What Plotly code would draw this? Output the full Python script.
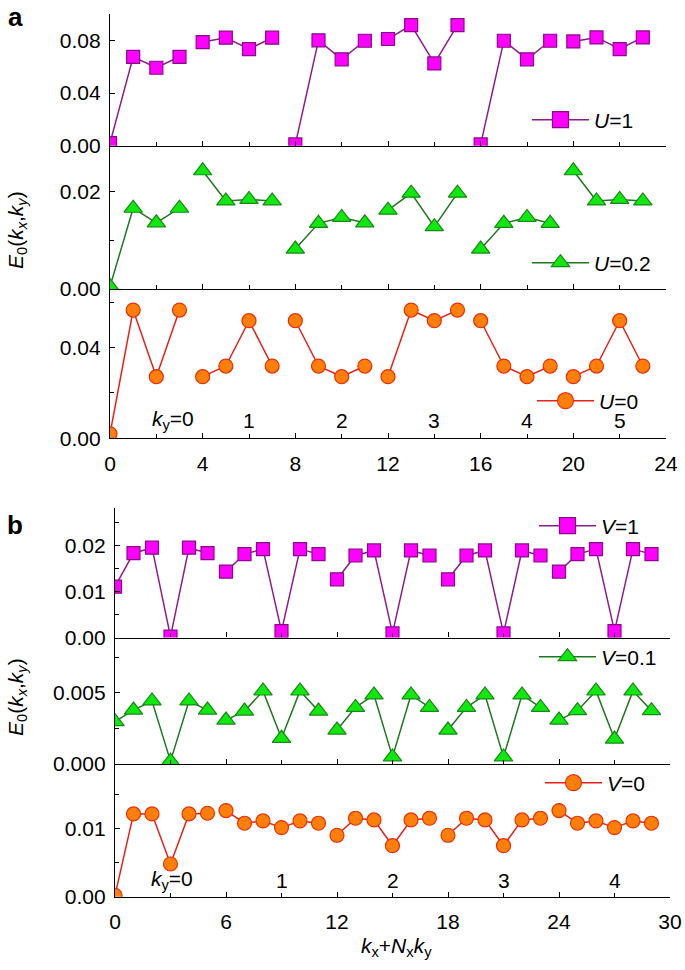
import plotly.graph_objects as go

# ---------------- data ----------------
NX_A = 4
x_a = list(range(24))
u1 = [0.002, 0.0675, 0.0592, 0.0675, 0.0787, 0.082, 0.0734, 0.082,
      0.001, 0.080, 0.0656, 0.0797, 0.081, 0.0916, 0.0625, 0.0916,
      0.001, 0.0797, 0.0656, 0.0797, 0.0792, 0.0822, 0.0734, 0.0822]
u02 = [0.0005, 0.0166, 0.0136, 0.0166, 0.0243, 0.0181, 0.0184, 0.0181,
       0.0082, 0.0135, 0.0147, 0.0136, 0.0162, 0.0197, 0.0128, 0.0197,
       0.0082, 0.0135, 0.0147, 0.0135, 0.0243, 0.0181, 0.0184, 0.0181]
u0 = [0.002, 0.0566, 0.0272, 0.0566, 0.0272, 0.0319, 0.0519, 0.0319,
      0.0519, 0.0319, 0.0272, 0.0319, 0.0272, 0.0566, 0.0519, 0.0566,
      0.0519, 0.0319, 0.0272, 0.0319, 0.0272, 0.0319, 0.0519, 0.0319]
ky_labels_a = ["<i>k</i><sub>y</sub>=0", "1", "2", "3", "4", "5"]

NX_B = 6
x_b = list(range(30))
v1 = [0.0111, 0.0184, 0.0196, 0.0002, 0.0196, 0.0184,
      0.0144, 0.0182, 0.0193, 0.0014, 0.0193, 0.0182,
      0.0127, 0.0179, 0.0190, 0.0009, 0.0190, 0.0179,
      0.0127, 0.0179, 0.0190, 0.0009, 0.0190, 0.0179,
      0.0144, 0.0182, 0.0193, 0.0014, 0.0193, 0.0182]
v01 = [0.00297, 0.00378, 0.00442, 0.0002, 0.00442, 0.00378,
       0.00308, 0.00371, 0.00512, 0.0018, 0.00512, 0.00371,
       0.00238, 0.00397, 0.00484, 0.0005, 0.00484, 0.00397,
       0.00238, 0.00397, 0.00484, 0.0005, 0.00484, 0.00397,
       0.00308, 0.00374, 0.00512, 0.00175, 0.00512, 0.00374]
v0 = [0.0002, 0.0121, 0.0121, 0.00478, 0.0121, 0.0122,
      0.01259, 0.01074, 0.01108, 0.0101, 0.01108, 0.01074,
      0.00898, 0.01147, 0.01122, 0.00746, 0.01122, 0.01147,
      0.00898, 0.01147, 0.01122, 0.00746, 0.01122, 0.01147,
      0.01259, 0.01074, 0.01108, 0.0101, 0.01108, 0.01074]
ky_labels_b = ["<i>k</i><sub>y</sub>=0", "1", "2", "3", "4"]

# ---------------- style ----------------
FONT = "Liberation Sans, Arial, sans-serif"
TICKFONT = dict(family=FONT, size=21, color="black")
STY = {
    "sq": dict(symbol="square", fill="#FF00FF", edge="#8A0A8A", line="#8B1C8B", size=13),
    "tri": dict(symbol="triangle-up", fill="#10E810", edge="#168A16", line="#1E781E", size=16),
    "cir": dict(symbol="circle", fill="#FF7F0A", edge="#E8300A", line="#E8201A", size=14),
}


def broken(xs, ys, n):
    xx, yy = [], []
    for i, (x, y) in enumerate(zip(xs, ys)):
        if i and i % n == 0:
            xx.append(None)
            yy.append(None)
        xx.append(x)
        yy.append(y)
    return xx, yy


fig = go.Figure()

panels = [
    (x_a, u1, NX_A, "sq", "<i>U</i>=1", 1, "legend"),
    (x_a, u02, NX_A, "tri", "<i>U</i>=0.2", 2, "legend2"),
    (x_a, u0, NX_A, "cir", "<i>U</i>=0", 3, "legend3"),
    (x_b, v1, NX_B, "sq", "<i>V</i>=1", 4, "legend4"),
    (x_b, v01, NX_B, "tri", "<i>V</i>=0.1", 5, "legend5"),
    (x_b, v0, NX_B, "cir", "<i>V</i>=0", 6, "legend6"),
]

for xs, ys, n, st, name, k, lg in panels:
    s = STY[st]
    xx, yy = broken(xs, ys, n)
    xref = "x" if k == 1 else f"x{k}"
    yref = "y" if k == 1 else f"y{k}"
    fig.add_trace(go.Scatter(
        x=xx, y=yy, mode="lines+markers", name=name,
        line=dict(color=s["line"], width=1.5),
        marker=dict(symbol=s["symbol"], size=s["size"], color=s["fill"],
                    line=dict(color=s["edge"], width=1.2)),
        xaxis=xref, yaxis=yref, showlegend=False, connectgaps=False,
    ))
    # legend entry with a larger symbol
    fig.add_trace(go.Scatter(
        x=[None], y=[None], mode="lines+markers", name=name,
        line=dict(color=s["line"], width=1.5),
        marker=dict(symbol=s["symbol"], size=18, color=s["fill"],
                    line=dict(color=s["edge"], width=1.2)),
        xaxis=xref, yaxis=yref, legend=lg, showlegend=True,
    ))

W, H = 685, 970


def py(p):
    return 1 - p / H


xdom_a = [110 / W, 666 / W]
xdom_b = [115 / W, 670 / W]

ycfg = {
    1: ((14, 145.7), 0.1, 0.04, None, ".2f"),
    2: ((145.7, 289), 0.02945, 0.02, 0.01, ".2f"),
    3: ((289, 438.3), 0.0659, 0.04, 0.02, ".2f"),
    4: ((508.3, 637.5), 0.0282, 0.01, 0.005, ".2f"),
    5: ((637.5, 764), 0.00887, 0.005, 0.0025, ".3f"),
    6: ((764, 896.7), 0.0194, 0.01, 0.005, ".2f"),
}

layout = dict(
    template="none",
    width=W, height=H, margin=dict(l=0, r=0, t=0, b=0, autoexpand=False),
    paper_bgcolor="white", plot_bgcolor="white",
    font=dict(family=FONT, size=21, color="black"),
)

for k in range(1, 7):
    (top, bot), ymax, dt, mdt, fmt = ycfg[k]
    xa = "xaxis" if k == 1 else f"xaxis{k}"
    ya = "yaxis" if k == 1 else f"yaxis{k}"
    panel_a = k <= 3
    bottom_of_panel = k in (3, 6)
    xax = dict(
        domain=xdom_a if panel_a else xdom_b,
        range=[0, 24] if panel_a else [0, 30],
        anchor="y" if k == 1 else f"y{k}",
        dtick=4 if panel_a else 6, tick0=0,
        ticks="inside", ticklen=5, tickwidth=1.3, tickcolor="black",
        minor=dict(dtick=2 if panel_a else 3, ticks="inside", ticklen=4,
                   tickwidth=1.3, tickcolor="black", showgrid=False),
        showline=True, linecolor="black", linewidth=1.3,
        showgrid=False, zeroline=False, automargin=False,
        showticklabels=bottom_of_panel, tickfont=TICKFONT,
        ticklabelstandoff=6,
    )
    yax = dict(
        domain=[py(bot), py(top)], range=[0, ymax],
        anchor="x" if k == 1 else f"x{k}",
        dtick=dt, tick0=0, tickformat=fmt,
        ticks="inside", ticklen=5, tickwidth=1.3, tickcolor="black",
        showline=True, linecolor="black", linewidth=1.3,
        showgrid=False, zeroline=False, automargin=False, tickfont=TICKFONT,
        ticklabelstandoff=4,
    )
    if mdt:
        yax["minor"] = dict(dtick=mdt, ticks="inside", ticklen=4, tickwidth=1.3,
                            tickcolor="black", showgrid=False)
    layout[xa] = xax
    layout[ya] = yax

leg_pos = {
    "legend": (120, 527),
    "legend2": (263, 527),
    "legend3": (401, 532),
    "legend4": (526, 534),
    "legend5": (657, 534),
    "legend6": (783, 540),
}
for lg, (ypx, xpx) in leg_pos.items():
    layout[lg] = dict(x=xpx / W, y=py(ypx), xanchor="left", yanchor="middle",
                      bgcolor="rgba(0,0,0,0)", borderwidth=0,
                      font=dict(family=FONT, size=21, color="black"),
                      itemsizing="trace", itemwidth=57, tracegroupgap=0)

fig.update_layout(**layout)

ann = []
for i, t in enumerate(ky_labels_a):
    xpos = i * NX_A + NX_A / 2 + (0.7 if i == 0 else 0)
    ann.append(dict(x=xpos, y=0.008, xref="x3", yref="y3", text=t, showarrow=False,
                    font=dict(family=FONT, size=21), xanchor="center", yanchor="middle"))
for i, t in enumerate(ky_labels_b):
    xpos = i * NX_B + NX_B / 2 + (0.1 if i == 0 else 0)
    ann.append(dict(x=xpos, y=0.0024, xref="x6", yref="y6", text=t, showarrow=False,
                    font=dict(family=FONT, size=21), xanchor="center", yanchor="middle"))

ytitle = "<i>E</i><sub>0</sub>(<i>k<sub>x</sub></i>,<i>k<sub>y</sub></i>)"
for ypx in (230, 697):
    ann.append(dict(x=17 / W, y=py(ypx), xref="paper", yref="paper", text=ytitle,
                    textangle=-90, showarrow=False, font=dict(family=FONT, size=21),
                    xanchor="center", yanchor="middle"))

ann.append(dict(x=396 / W, y=py(947), xref="paper", yref="paper",
                text="<i>k</i><sub>x</sub>+<i>N</i><sub>x</sub><i>k</i><sub>y</sub>",
                showarrow=False, font=dict(family=FONT, size=21),
                xanchor="center", yanchor="middle"))

ann.append(dict(x=15 / W, y=py(17), xref="paper", yref="paper", text="<b>a</b>",
                showarrow=False, font=dict(family=FONT, size=26),
                xanchor="center", yanchor="middle"))
ann.append(dict(x=15 / W, y=py(525), xref="paper", yref="paper", text="<b>b</b>",
                showarrow=False, font=dict(family=FONT, size=26),
                xanchor="center", yanchor="middle"))

fig.update_layout(annotations=ann)

fig.write_html("out.html", config={"displayModeBar": False},
               post_script="document.body.style.margin='0';document.body.style.overflow='hidden';")
